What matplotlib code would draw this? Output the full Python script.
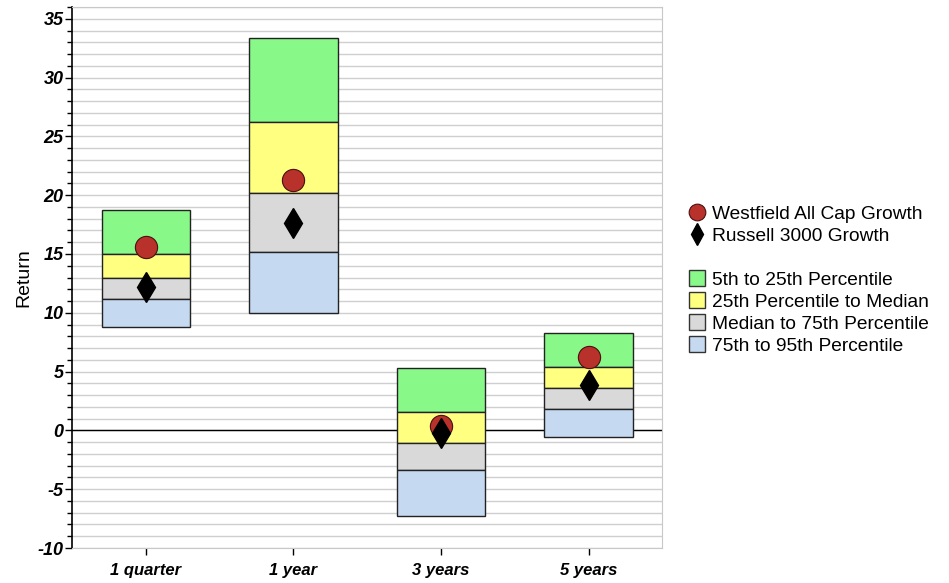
import matplotlib
matplotlib.use("Agg")
import matplotlib.pyplot as plt
from matplotlib.lines import Line2D
from matplotlib.patches import Patch
from matplotlib.ticker import MultipleLocator

plt.rcParams['font.family'] = ['Liberation Sans', 'DejaVu Sans']
plt.rcParams['axes.unicode_minus'] = False

categories = ['1 quarter', '1 year', '3 years', '5 years']
# percentile boundaries, top to bottom
p5 = [18.7, 33.4, 5.3, 8.3]
p25 = [15.0, 26.2, 1.6, 5.4]
median = [12.95, 20.2, -1.1, 3.6]
p75 = [11.2, 15.2, -3.4, 1.8]
p95 = [8.8, 10.0, -7.3, -0.55]
westfield = [15.6, 21.3, 0.4, 6.25]
russell = [12.2, 17.6, -0.2, 3.9]
yticks = [-10, -5, 0, 5, 10, 15, 20, 25, 30, 35]

band_labels = ['5th to 25th Percentile', '25th Percentile to Median',
               'Median to 75th Percentile', '75th to 95th Percentile']
band_colors = ['#88f888', '#ffff80', '#d9d9d9', '#c5d9f0']

fig = plt.figure(figsize=(9.49, 5.83), dpi=100)
ax = fig.add_axes([0.0759, 0.06, 0.622, 0.928])

x = list(range(len(categories)))
bounds = [p5, p25, median, p75, p95]
for i in range(4):
    top, bot = bounds[i], bounds[i + 1]
    h = [t - b for t, b in zip(top, bot)]
    ax.bar(x, h, bottom=bot, width=0.6, color=band_colors[i],
           edgecolor='#222222', linewidth=1.0, zorder=3)

ax.plot(x, westfield, 'o', ms=16, color='#b8322b', mec='#4a1010', mew=0.8,
        zorder=5, linestyle='none')
ax.plot(x, russell, 'd', ms=15, color='black', zorder=6, linestyle='none')

ax.axhline(0, color='black', lw=1.0, zorder=2)

ax.set_xlim(-0.5, 3.5)
ax.set_ylim(-10, 36)
ax.set_yticks(yticks)
ax.set_yticklabels([str(v) for v in yticks], fontsize=13,
                   fontweight='bold', fontstyle='italic')
ax.yaxis.set_minor_locator(MultipleLocator(1))
ax.grid(axis='y', which='both', color='#cfcfcf', lw=1.0, zorder=0)
ax.set_axisbelow(True)

ax.set_xticks(x)
ax.set_xticklabels(categories, fontsize=12, fontweight='bold', fontstyle='italic')
ax.tick_params(axis='y', which='major', length=5, width=1, pad=1)
ax.tick_params(axis='y', which='minor', length=3.5, width=1)
ax.tick_params(axis='x', length=5, width=1, pad=6)
ax.set_ylabel('Return', fontsize=14)
ax.yaxis.set_label_coords(-0.067, 0.5)

for s in ['top', 'right', 'bottom']:
    ax.spines[s].set_color('#c8c8c8')
ax.spines['left'].set_color('black')
ax.spines['left'].set_linewidth(1.2)

handles = [
    Line2D([], [], marker='o', ls='none', ms=12, color='#b8322b', mec='#4a1010', mew=0.8),
    Line2D([], [], marker='d', ls='none', ms=11, color='black'),
    Line2D([], [], ls='none'),
]
labels = ['Westfield All Cap Growth', 'Russell 3000 Growth', '']
for c, l in zip(band_colors, band_labels):
    handles.append(Patch(facecolor=c, edgecolor='#333333', linewidth=1.0))
    labels.append(l)

fig.legend(handles, labels, loc='upper left', bbox_to_anchor=(0.718, 0.662),
           frameon=False, fontsize=13.8, handlelength=0.85, handleheight=0.85,
           handletextpad=0.35, labelspacing=0.19, borderaxespad=0)

fig.savefig('out.png', dpi=100)
